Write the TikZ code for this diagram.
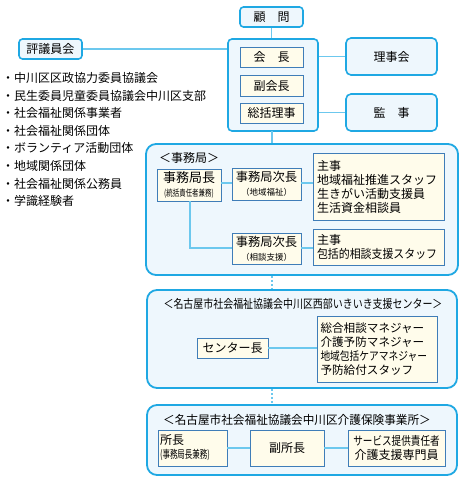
\documentclass[tikz,border=0pt]{standalone}
\usepackage{fontspec}
\setmainfont{Noto Sans CJK JP}
\usepackage{graphicx}
\definecolor{cOuter}{HTML}{1FA8E3}
\definecolor{cFill}{HTML}{EEF7FD}
\definecolor{cInner}{HTML}{3F7DB8}
\definecolor{cCream}{HTML}{FFFCEB}
\definecolor{cLine}{HTML}{6CC8EE}
\newcommand{\fs}[2]{\fontsize{#1}{#2}\selectfont}
\newcommand{\sx}[2]{\scalebox{#1}[1]{#2}}
\begin{document}
\begin{tikzpicture}[x=1pt,y=-1pt,
  outer/.style={draw=cOuter, line width=1.8pt, fill=cFill, rounded corners=10pt, inner sep=0pt},
  smallouter/.style={draw=cOuter, line width=1.6pt, fill=cFill, rounded corners=3.5pt, inner sep=0pt, font=\fs{12}{14}},
  inner/.style={draw=cInner, line width=0.9pt, fill=cCream, inner sep=0pt, font=\fs{12}{14}},
  conn/.style={draw=cLine, line width=1.4pt},
  dots/.style={draw=cLine, line width=1.6pt, dash pattern=on 2pt off 2pt},
  txt/.style={inner sep=0pt, font=\fs{12}{14}}
]
\useasboundingbox (0,0) rectangle (466,477);
\fill[white] (0,0) rectangle (466,477);

% ---- top ----
\node[smallouter, minimum width=63pt, minimum height=20pt] (komon) at (271.5,17) {顧　問};
\node[smallouter, rounded corners=4pt, minimum width=90pt, minimum height=92pt] (grp) at (273,85) {};
\node[inner, minimum width=63pt, minimum height=20pt] (kaicho) at (271.5,57) {会　長};
\node[inner, minimum width=63pt, minimum height=21pt] (fuku) at (271.5,85.5) {副会長};
\node[inner, minimum width=63pt, minimum height=20pt] (sokatsu) at (271.5,113) {総括理事};
\node[smallouter, rounded corners=5pt, minimum width=91pt, minimum height=37pt] (rijikai) at (391.5,56.5) {理事会};
\node[smallouter, rounded corners=5pt, minimum width=91pt, minimum height=37pt] (kanji) at (391.5,112.5) {監　事};
\node[smallouter, minimum width=63pt, minimum height=20pt] (hyogi) at (50.5,49) {評議員会};

\draw[conn] (komon.south) -- (komon.south |- grp.north);
\draw[conn] (hyogi.east) -- (hyogi.east -| grp.west);
\draw[conn] (rijikai.west) -- (rijikai.west -| grp.east);
\draw[conn] (kanji.west) -- (kanji.west -| grp.east);

% ---- list ----
\foreach \t [count=\i from 0] in {中川区区政協力委員協議会,民生委員児童委員協議会中川区支部,社会福祉関係事業者,社会福祉関係団体,ボランティア活動団体,地域関係団体,社会福祉関係公務員,学識経験者}
  \node[txt, anchor=west] (li\i) at (2,{78+17.6*\i}) {・\t};

% ---- 事務局 ----
\draw[conn] (272,131) -- (272,144);
\node[outer, minimum width=312pt, minimum height=131pt] (jim) at (302,209.5) {};
\node[txt, anchor=west] (jimlabel) at (159,158) {＜事務局＞};
\node[inner, minimum width=64pt, minimum height=32pt, align=center] (kyoku) at (189,185)
  {{\fs{13}{13}事務局長}\\[0pt]{\fs{9}{9}\sx{0.72}{(統括責任者兼務)}}};
\node[inner, minimum width=69pt, minimum height=32pt, align=center] (jicho1) at (266.5,184)
  {{\fs{12.3}{12}事務局次長}\\[0pt]{\fs{8.5}{9}（地域福祉）}};
\node[inner, minimum width=131pt, minimum height=67pt, align=left, text width=124pt] (staff1) at (379,186.5)
  {主事\\地域福祉推進スタッフ\\生きがい活動支援員\\生活資金相談員};
\node[inner, minimum width=69pt, minimum height=31pt, align=center] (jicho2) at (266.5,248.5)
  {{\fs{12.3}{12}事務局次長}\\[0pt]{\fs{8.5}{9}（相談支援）}};
\node[inner, minimum width=131pt, minimum height=36pt, align=left, text width=124pt] (staff2) at (379,247)
  {主事\\\sx{0.91}{包括的相談支援スタッフ}};
\draw[conn] (kyoku.east |- 0,183) -- (jicho1.west |- 0,183);
\draw[conn] (jicho1.east |- 0,183) -- (staff1.west |- 0,183);
\draw[conn] (kyoku.south -| 190,0) -- (190,248) -- (jicho2.west |- 0,248);
\draw[conn] (jicho2.east |- 0,248) -- (staff2.west |- 0,248);

% ---- センター ----
\node[outer, minimum width=310pt, minimum height=98pt] (cen) at (302,339) {};
\draw[dots] (jim.south -| 272,0) -- (cen.north -| 272,0);
\node[txt] (centitle) at (303,304) {\sx{0.83}{＜名古屋市社会福祉協議会中川区西部いきいき支援センター＞}};
\node[inner, minimum width=71pt, minimum height=20pt] (chou) at (232.5,348) {センター長};
\node[inner, minimum width=120pt, minimum height=66pt, align=left, text width=113pt, font=\fs{11.6}{13.8}] (staff3) at (377,349)
  {総合相談マネジャー\\介護予防マネジャー\\\sx{0.84}{地域包括ケアマネジャー}\\予防給付スタッフ};
\draw[conn] (chou.east) -- (chou.east -| staff3.west);

% ---- 介護保険事業所 ----
\node[outer, minimum width=310pt, minimum height=70pt] (kaigo) at (302,440) {};
\draw[dots] (cen.south -| 272,0) -- (kaigo.north -| 272,0);
\node[txt] (kaigotitle) at (297,420) {\sx{0.97}{＜名古屋市社会福祉協議会中川区介護保険事業所＞}};
\node[inner, minimum width=69pt, minimum height=36pt, align=left, text width=65pt] (shocho) at (192.5,448)
  {所長\\[0pt]{\fs{11}{11}\sx{0.68}{(事務局長兼務)}}};
\node[inner, minimum width=74pt, minimum height=36pt] (fukusho) at (287,448) {副所長};
\node[inner, minimum width=97pt, minimum height=36pt, align=center] (service) at (396.5,448)
  {\sx{0.8}{サービス提供責任者}\\介護支援専門員};
\draw[conn] (shocho.east) -- (fukusho.west);
\draw[conn] (fukusho.east) -- (service.west);
\end{tikzpicture}
\end{document}
